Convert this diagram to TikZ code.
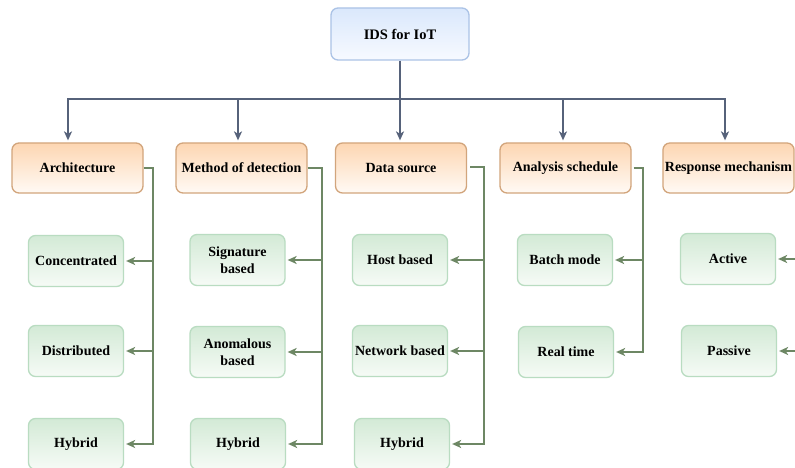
\documentclass[tikz,border=0pt]{standalone}
\usepackage{fontspec}
\setmainfont{Liberation Serif}
\usetikzlibrary{arrows.meta}

\definecolor{rootTop}{HTML}{DAE8FC}
\definecolor{rootBot}{HTML}{F7FAFF}
\definecolor{rootLine}{HTML}{ABC3E6}
\definecolor{catTop}{HTML}{FDD6B2}
\definecolor{catBot}{HTML}{FFFAF5}
\definecolor{catLine}{HTML}{D2A57C}
\definecolor{leafTop}{HTML}{D3EAD6}
\definecolor{leafBot}{HTML}{F6FBF6}
\definecolor{leafLine}{HTML}{B9DCC1}
\definecolor{busLine}{HTML}{56627A}
\definecolor{feedLine}{HTML}{6D8764}

\tikzset{
  basebox/.style={rectangle, rounded corners=7pt, line width=1.3pt,
    font=\fontsize{14}{17.5}\selectfont\bfseries, align=center, inner sep=2pt},
  rootbox/.style={basebox, draw=rootLine, top color=rootTop, bottom color=rootBot,
    minimum width=138pt, minimum height=52pt, font=\fontsize{14.5}{18}\selectfont\bfseries},
  catbox/.style={basebox, draw=catLine, top color=catTop, bottom color=catBot,
    minimum width=131pt, minimum height=50pt},
  leafbox/.style={basebox, draw=leafLine, top color=leafTop, bottom color=leafBot,
    minimum width=95pt, minimum height=51pt},
  bus/.style={draw=busLine, line width=1.8pt},
  busarrow/.style={bus, -{Stealth[length=9pt,width=8pt,inset=2.5pt]}, shorten >=2pt},
  feed/.style={draw=feedLine, line width=1.8pt},
  feedarrow/.style={feed, -{Stealth[length=9pt,width=8pt,inset=2.5pt]}, shorten >=2pt},
}

\begin{document}
\begin{tikzpicture}[x=1pt,y=-1pt]
\useasboundingbox (0,0) rectangle (795,468);
\clip (0,0) rectangle (795,468);
\fill[white] (0,0) rectangle (795,468);

% root
\node[rootbox] (ids) at (400,34) {IDS for IoT};

% categories
\node[catbox] (arch) at (77.5,168) {Architecture};
\node[catbox] (meth) at (241.5,168) {Method of detection};
\node[catbox] (data) at (401,168) {Data source};
\node[catbox] (anal) at (565.5,168) {Analysis schedule};
\node[catbox] (resp) at (728.5,168) {Response mechanism};

% leaves
\node[leafbox] (conc) at (76,261) {Concentrated};
\node[leafbox] (dist) at (76,351) {Distributed};
\node[leafbox] (ahyb) at (76,444) {Hybrid};

\node[leafbox] (sig)  at (237.5,260) {Signature\\based};
\node[leafbox] (anom) at (237.5,352) {Anomalous\\based};
\node[leafbox] (mhyb) at (238,444) {Hybrid};

\node[leafbox] (host) at (400,260) {Host based};
\node[leafbox] (net)  at (400,351) {Network based};
\node[leafbox] (dhyb) at (402,444) {Hybrid};

\node[leafbox] (batch) at (565,260) {Batch mode};
\node[leafbox] (real)  at (566,352) {Real time};

\node[leafbox] (act)  at (728,259) {Active};
\node[leafbox] (pass) at (729,351) {Passive};

% bus from the root to every category
\coordinate (b0) at (400,99);
\draw[bus] (ids.south) -- (b0);
\draw[busarrow] (b0) -| ([xshift=-9.5pt]arch.north);
\draw[busarrow] (b0) -| ([xshift=-3.5pt]meth.north);
\draw[busarrow] (b0) -- ([xshift=-1pt]data.north);
\draw[busarrow] (b0) -| ([xshift=-2.5pt]anal.north);
\draw[busarrow] (b0) -| ([xshift=-3.5pt]resp.north);

% feeders from each category to its leaves
\coordinate (va) at (153,168);
\draw[feedarrow] (arch.east) -- (va) |- (ahyb.east);
\draw[feedarrow] (va |- conc) -- (conc.east);
\draw[feedarrow] (va |- dist) -- (dist.east);

\coordinate (vm) at (322,168);
\draw[feedarrow] (meth.east) -- (vm) |- (mhyb.east);
\draw[feedarrow] (vm |- sig) -- (sig.east);
\draw[feedarrow] (vm |- anom) -- (anom.east);

\coordinate (vd) at (484,167);
\draw[feedarrow] ([xshift=3pt]data.east |- vd) -- (vd) |- (dhyb.east);
\draw[feedarrow] (vd |- host) -- (host.east);
\draw[feedarrow] (vd |- net) -- (net.east);

\coordinate (vn) at (643,168);
\draw[feedarrow] ([xshift=2pt]anal.east) -- (vn) |- (real.east);
\draw[feedarrow] (vn |- batch) -- (batch.east);

\coordinate (vr) at (806,168);
\draw[feedarrow] ([xshift=3pt]resp.east) -- (vr) |- (pass.east);
\draw[feedarrow] (vr |- act) -- (act.east);
\end{tikzpicture}
\end{document}
